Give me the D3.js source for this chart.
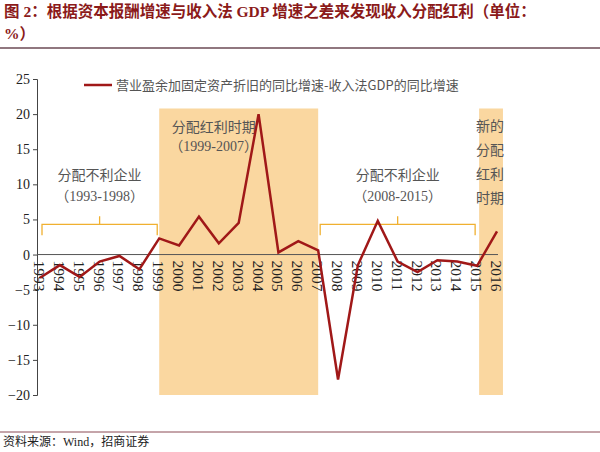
<!DOCTYPE html>
<html><head><meta charset="utf-8">
<script src="https://cdn.jsdelivr.net/npm/d3@7"></script>
<style>body{margin:0;background:#fff}</style>
</head><body><svg id="chart" width="600" height="452"></svg>
<script>
// data
var years = d3.range(1993, 2017);
var values = [-3.3, -1.5, -3.2, -1.0, -0.2, -2.1, 2.3, 1.3, 5.4, 1.6, 4.5, 20.0, 0.3, 1.9, 0.6, -17.8, -1.5, 4.8, -1.0, -2.5, -0.8, -1.0, -1.6, 3.3];
var yTicks = [25, 20, 15, 10, 5, 0, -5, -10, -15, -20];
var shades = [[1999, 2007], [2015.1, 2016.3]];
var braces = [[1993, 1999, "分配不利企业", "（1993-1998）"], [2007, 2015, "分配不利企业", "（2008-2015）"]];
var seriesName = "营业盈余加固定资产折旧的同比增速-收入法GDP的同比增速";

var svg = d3.select("#chart");
var serif = "'Liberation Serif','Noto Sans CJK SC',serif";
var cjk = "'Noto Sans CJK SC',sans-serif";

// title and footer
svg.append("text").attr("x", 4).attr("y", 17).attr("fill", "#8b1a1a")
  .style("font-family", serif).style("font-size", "15.5px").style("font-weight", "bold")
  .text("图 2：根据资本报酬增速与收入法 GDP 增速之差来发现收入分配红利（单位：");
svg.append("text").attr("x", 4).attr("y", 39).attr("fill", "#8b1a1a")
  .style("font-family", serif).style("font-size", "15.5px").style("font-weight", "bold").text("%）");
svg.append("line").attr("x1", 0).attr("x2", 600).attr("y1", 48).attr("y2", 48).attr("stroke", "#6b4a55").attr("stroke-width", 1.5);
svg.append("line").attr("x1", 0).attr("x2", 600).attr("y1", 432).attr("y2", 432).attr("stroke", "#8b4a55").attr("stroke-width", 1);
svg.append("text").attr("x", 3).attr("y", 446).style("font-family", serif).style("font-size", "12px").attr("fill", "#222")
  .text("资料来源：Wind，招商证券");

var x = d3.scaleLinear().domain([1993, 2016]).range([40, 497]);
var y = d3.scaleLinear().domain([-20, 25]).range([395, 79]);

// shaded periods
svg.selectAll(".shade").data(shades).enter().append("rect")
  .attr("x", function(d) { return x(d[0]); }).attr("width", function(d) { return x(d[1]) - x(d[0]); })
  .attr("y", y(20.8)).attr("height", y(-20) - y(20.8)).attr("fill", "#fad7a0");

// axes
var yAxis = svg.append("g").attr("transform", "translate(37,0)")
  .call(d3.axisLeft(y).tickValues(yTicks).tickSize(4).tickFormat(d3.format("d")));
yAxis.select(".domain").attr("stroke", "#444");
yAxis.selectAll("text").style("font-family", serif).style("font-size", "14px").attr("fill", "#222");
yAxis.selectAll("line").attr("stroke", "#444");

svg.append("line").attr("x1", 37).attr("x2", 498).attr("y1", y(0)).attr("y2", y(0)).attr("stroke", "#555");

svg.selectAll(".xl").data(years).enter().append("text")
  .attr("transform", function(d) { return "translate(" + (x(d) - 6) + "," + (y(0) + 6) + ") rotate(90)"; })
  .style("font-family", serif).style("font-size", "15.5px").attr("fill", "#222")
  .text(function(d) { return d; });

// braces
braces.forEach(function(b) {
  var x0 = x(b[0]) + 2, x1 = x(b[1]) - 2, yb = y(4.3), xm = (x0 + x1) / 2;
  svg.append("path").attr("fill", "none").attr("stroke", "#f0b030").attr("stroke-width", 1.3)
    .attr("d", "M" + x0 + "," + (yb + 11) + "V" + yb + "H" + x1 + "V" + (yb + 11) + "M" + xm + "," + yb + "V" + (yb - 8));
  svg.append("text").attr("x", xm).attr("y", y(10.6)).attr("text-anchor", "middle")
    .style("font-family", cjk).style("font-size", "14px").attr("fill", "#555").text(b[2]);
  svg.append("text").attr("x", xm).attr("y", y(7.6)).attr("text-anchor", "middle")
    .style("font-family", serif).style("font-size", "14px").attr("fill", "#555").text(b[3]);
});
svg.append("text").attr("x", x(2003) - 25).attr("y", y(17.5)).attr("text-anchor", "middle")
  .style("font-family", cjk).style("font-size", "14px").attr("fill", "#555").text("分配红利时期");
svg.append("text").attr("x", x(2003) - 25).attr("y", y(14.8)).attr("text-anchor", "middle")
  .style("font-family", serif).style("font-size", "14px").attr("fill", "#555").text("（1999-2007）");
["新的", "分配", "红利", "时期"].forEach(function(t, i) {
  svg.append("text").attr("x", 490).attr("y", 131 + i * 24).attr("text-anchor", "middle")
    .style("font-family", cjk).style("font-size", "14px").attr("fill", "#555").text(t);
});

// series line
svg.append("path").datum(values).attr("fill", "none").attr("stroke", "#a01818").attr("stroke-width", 2.5)
  .attr("d", d3.line().x(function(d, i) { return x(years[i]); }).y(function(d) { return y(d); }));

// legend
svg.append("line").attr("x1", 84).attr("x2", 112).attr("y1", 85).attr("y2", 85).attr("stroke", "#a01818").attr("stroke-width", 2.5);
svg.append("text").attr("x", 116).attr("y", 90).style("font-family", cjk).style("font-size", "13px").attr("fill", "#555").text(seriesName);
</script></body></html>
